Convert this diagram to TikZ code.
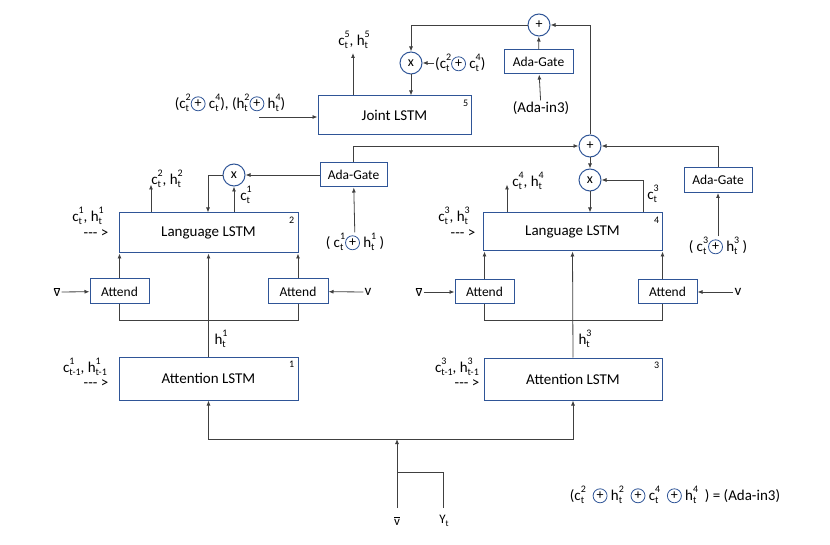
\documentclass[tikz,border=0pt]{standalone}
\usepackage{fontspec}
\setmainfont{Carlito}
\usetikzlibrary{arrows.meta}
\definecolor{boxblue}{RGB}{47,85,151}
\definecolor{ln}{RGB}{64,64,64}
\newcommand{\cst}[3]{#1\begingroup\fontsize{10}{11}\selectfont
 \setbox0=\hbox{#2}\setbox2=\hbox{#3}%
 \ifdim\wd0>\wd2 \dimen0=\wd0 \else \dimen0=\wd2 \fi
 \rlap{\raisebox{-0.3em}{\box0}}\rlap{\raisebox{0.75em}{\box2}}\hspace*{\dimen0}\endgroup}
\newcommand{\opl}{\tikz[baseline=-0.65ex]\node[circle,draw=boxblue,line width=0.8pt,inner sep=0pt,minimum size=14pt,font=\fontsize{14}{14}\selectfont](pl){+};}
\newcommand{\vbar}{\ensuremath{\overline{\mbox{v}}}}
\newcommand{\dash}{{-}{-}{-} >}
\begin{document}
\begin{tikzpicture}[x=1pt,y=-1pt,
  box/.style={draw=boxblue,line width=1pt,fill=white,font=\fontsize{15}{18}\selectfont,inner sep=0pt},
  sbox/.style={draw=boxblue,line width=1pt,fill=white,font=\fontsize{13.5}{15}\selectfont,inner sep=0pt,minimum height=24pt},
  opc/.style={circle,draw=boxblue,line width=1pt,minimum size=22pt,inner sep=0pt,font=\fontsize{14}{15}\selectfont},
  lbl/.style={font=\fontsize{15}{17}\selectfont,inner sep=1pt},
  num/.style={font=\fontsize{10}{11}\selectfont,inner sep=0pt},
  conn/.style={draw=ln,line width=0.8pt},
  arr/.style={conn,-{Latex[length=5pt,width=4pt]}}]
\useasboundingbox (0,0) rectangle (830,545);

% ---- boxes
\node[box,minimum width=153pt,minimum height=39pt] (joint) at (394.5,115.5) {Joint LSTM};
\node[box,minimum width=179pt,minimum height=40pt] (lang2) at (208.5,233) {Language LSTM};
\node[box,minimum width=179pt,minimum height=38pt] (lang4) at (572.5,232) {Language LSTM};
\node[box,minimum width=179pt,minimum height=43pt] (att1) at (208.5,378.5) {Attention LSTM};
\node[box,minimum width=178pt,minimum height=42pt] (att3) at (573,379) {Attention LSTM};
\node[num,anchor=north east] (n5) at ([xshift=-3pt,yshift=-4pt]joint.north east) {5};
\node[num,anchor=north east] (n2) at ([xshift=-4pt,yshift=-4pt]lang2.north east) {2};
\node[num,anchor=north east] (n4) at ([xshift=-3pt,yshift=-4pt]lang4.north east) {4};
\node[num,anchor=north east] (n1) at ([xshift=-4pt,yshift=-4pt]att1.north east) {1};
\node[num,anchor=north east] (n3) at ([xshift=-3pt,yshift=-4pt]att3.north east) {3};

\node[sbox,minimum width=69pt] (adat) at (538.5,62) {Ada-Gate};
\node[sbox,minimum width=67pt] (adl) at (353.5,175) {Ada-Gate};
\node[sbox,minimum width=68pt,minimum height=25pt] (adr) at (718,180) {Ada-Gate};

\node[sbox,minimum width=59pt,minimum height=25pt] (al1) at (119.5,291.5) {Attend};
\node[sbox,minimum width=60pt,minimum height=25pt] (al2) at (298,291.5) {Attend};
\node[sbox,minimum width=59pt] (ar1) at (484.5,292) {Attend};
\node[sbox,minimum width=59pt] (ar2) at (667.5,292) {Attend};

% ---- operator circles
\node[opc] (tp) at (539,25) {+};
\node[opc] (xj) at (411,63) {x};
\node[opc] (mp) at (590,146) {+};
\node[opc] (xr) at (590,180) {x};
\node[opc] (xl) at (234,175) {x};

% ---- labels
\node[lbl] (l5) at (354,40) {\cst{c}{t}{5}, \cst{h}{t}{5}};
\node[lbl,anchor=west] (lxj) at (434,63) {(\cst{c}{t}{2}\opl\ \cst{c}{t}{4})};
\node[lbl] (jin) at (230,103) {(\cst{c}{t}{2}\opl\ \cst{c}{t}{4}), (\cst{h}{t}{2}\opl\ \cst{h}{t}{4})};
\node[lbl] (ain) at (541,108) {(Ada-in3)};

\node[lbl] (l2) at (167,179) {\cst{c}{t}{2}, \cst{h}{t}{2}};
\node[lbl] (lc1) at (246,195) {\cst{c}{t}{1}};
\node[lbl] (l1a) at (88,216) {\cst{c}{t}{1}, \cst{h}{t}{1}};
\node[lbl] (l1b) at (96,234) {\dash};
\node[lbl] (inl) at (355,242) {( \cst{c}{t}{1}\opl\ \cst{h}{t}{1} )};

\node[lbl] (l4) at (528,181) {\cst{c}{t}{4}, \cst{h}{t}{4}};
\node[lbl] (lc3) at (653,194) {\cst{c}{t}{3}};
\node[lbl] (l3a) at (454,216) {\cst{c}{t}{3}, \cst{h}{t}{3}};
\node[lbl] (l3b) at (463,234) {\dash};
\node[lbl] (inr) at (718,246) {( \cst{c}{t}{3}\opl\ \cst{h}{t}{3} )};

\node[lbl] (vbl) at (57,292) {\vbar};
\node[lbl] (vl) at (368,292) {v};
\node[lbl] (vbr) at (419,292) {\vbar};
\node[lbl] (vr) at (738,292) {v};

\node[lbl] (h1) at (221,339) {\cst{h}{t}{1}};
\node[lbl] (h3) at (585,339) {\cst{h}{t}{3}};
\node[lbl] (l1c) at (85,367) {\cst{c}{t-1}{1}, \cst{h}{t-1}{1}};
\node[lbl] (l1d) at (96,384) {\dash};
\node[lbl] (l3c) at (457,367) {\cst{c}{t-1}{3}, \cst{h}{t-1}{3}};
\node[lbl] (l3d) at (467,384) {\dash};

\node[lbl,font=\fontsize{13}{15}\selectfont] (bv) at (397,521) {\vbar};
\node[lbl,font=\fontsize{13}{15}\selectfont] (by) at (444,521) {Y\raisebox{-0.25em}{\fontsize{9}{10}\selectfont t}};

\node[lbl] (eq) at (675,495) {(\cst{c}{t}{2}\ \ \opl\ \cst{h}{t}{2}\ \ \opl\ \cst{c}{t}{4}\ \ \opl\ \cst{h}{t}{4}\ \ ) = (Ada-in3)};

% ---- coordinates
\coordinate (j5) at (353,53);
\coordinate (jinS) at (259,117);
\coordinate (vb) at (397,508);
\coordinate (yt) at (443,508);
\coordinate (bus) at (397,439);
\coordinate (jn) at (397,472);

% ---- joint section
\draw[arr] (j5 |- joint.north) -- (j5);
\draw[arr] (xj) -- (xj |- joint.north);
\draw[arr] (lxj) -- (xj);
\draw[arr] (tp) -| (xj);
\draw[arr] (adat) -- (tp);
\draw[arr] (ain) -- (adat);
\draw[arr] (mp) |- (tp);
\draw[arr] (jinS) -- (jinS -| joint.west);

% ---- middle section
\draw[arr] (adl.north) |- (mp);
\draw[arr] (adr.north) |- (mp);
\draw[arr] (mp) -- (xr);
\draw[arr] (xr) -- (xr |- lang4.north);
\draw[arr] ([xshift=70.5pt]lang4.north) |- (xr);
\draw[arr] ([xshift=-65.5pt]lang4.north) -- ++(0,-28);
\draw[arr] (inr) -- (adr);

\draw[arr] (adl) -- (xl);
\draw[arr] (xl) -| ([xshift=-0.5pt]lang2.north);
\draw[arr] ([xshift=25.5pt]lang2.north) -- (xl);
\draw[arr] ([xshift=-57.5pt]lang2.north) -- ++(0,-28);
\draw[arr] (inl) -- (adl);

% ---- attend, left group
\draw[arr] (al1) -- (al1 |- lang2.south);
\draw[arr] (al2) -- (al2 |- lang2.south);
\draw[conn] (al1.south) -- ++(0,16) -| (al2.south);
\draw[arr] (att1.north) -- (lang2.south);
\draw[arr] (vbl) -- (al1);
\draw[arr] (vl) -- (al2);

% ---- attend, right group
\draw[arr] (ar1) -- (ar1 |- lang4.south);
\draw[arr] (ar2.north -| lang4.south east) -- (lang4.south east);
\draw[conn] (ar1.south) -- ++(0,16) -| (ar2.south -| lang4.east);
\draw[arr] (att3.north) -- (lang4.south);
\draw[arr] (vbr) -- (ar1);
\draw[arr] (vr) -- (ar2);

% ---- bottom
\draw[arr] (vb) -- (bus);
\draw[conn] (yt) |- (jn);
\draw[arr] (bus) -| (att1);
\draw[arr] (bus) -| (att3);
\end{tikzpicture}
\end{document}
